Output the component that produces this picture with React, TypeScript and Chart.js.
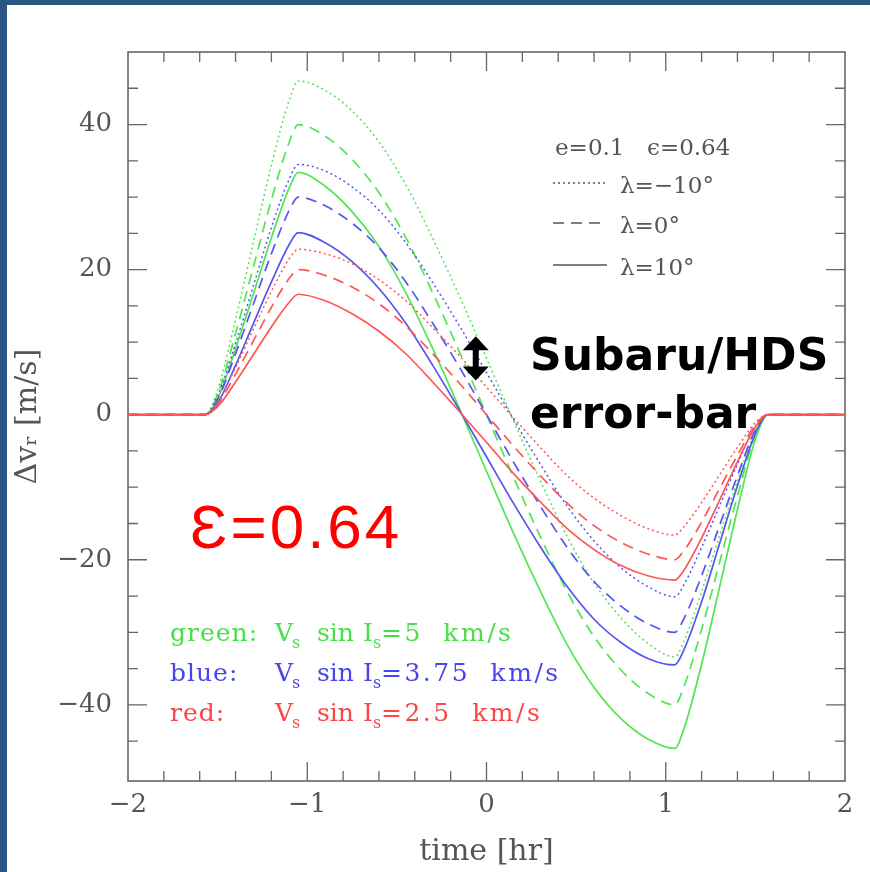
import React, { useEffect, useRef } from "react";
import { Chart, registerables } from "chart.js";

Chart.register(...registerables);

// ---------- data ----------
const times = [-2, -1.57, -1.5, -1.4, -1.3, -1.2, -1.1, -1.05, -0.9, -0.75, -0.6, -0.45, -0.3, -0.15, 0, 0.15, 0.3, 0.45, 0.6, 0.75, 0.9, 1.05, 1.1, 1.2, 1.3, 1.4, 1.5, 1.57, 2];

const greenDotted = [0, 0, 3.4, 13.1, 23.8, 34.4, 43.4, 46.0, 44.7, 41.9, 37.6, 31.7, 24.3, 16.3, 7.8, -0.8, -9.1, -16.8, -23.2, -28.0, -31.5, -33.4, -31.3, -24.4, -16.7, -9.1, -2.2, 0, 0];
const greenDashed = [0, 0, 2.8, 11.2, 20.4, 29.6, 37.6, 40.0, 38.4, 35.2, 30.6, 24.4, 16.8, 8.6, 0, -8.6, -16.8, -24.4, -30.6, -35.2, -38.4, -40.0, -37.6, -29.6, -20.4, -11.2, -2.8, 0, 0];
const greenSolid = [0, 0, 2.2, 9.1, 16.7, 24.4, 31.3, 33.4, 31.5, 28.0, 23.2, 16.8, 9.1, 0.8, -7.8, -16.3, -24.3, -31.7, -37.6, -41.9, -44.7, -46.0, -43.4, -34.4, -23.8, -13.1, -3.4, 0, 0];

const blueDotted = [0, 0, 2.6, 9.8, 17.8, 25.8, 32.5, 34.5, 33.6, 31.4, 28.2, 23.7, 18.2, 12.2, 5.8, -0.6, -6.8, -12.6, -17.4, -21.1, -23.7, -25.1, -23.5, -18.3, -12.6, -6.8, -1.6, 0, 0];
const blueDashed = [0, 0, 2.1, 8.4, 15.3, 22.2, 28.2, 30.0, 28.8, 26.4, 23.0, 18.3, 12.6, 6.5, 0, -6.5, -12.6, -18.3, -23.0, -26.4, -28.8, -30.0, -28.2, -22.2, -15.3, -8.4, -2.1, 0, 0];
const blueSolid = [0, 0, 1.6, 6.8, 12.6, 18.3, 23.5, 25.1, 23.7, 21.1, 17.4, 12.6, 6.8, 0.6, -5.8, -12.2, -18.2, -23.7, -28.2, -31.4, -33.6, -34.5, -32.5, -25.8, -17.8, -9.8, -2.6, 0, 0];

const redDotted = [0, 0, 1.7, 6.5, 11.8, 17.0, 21.5, 22.8, 22.2, 20.8, 18.6, 15.7, 12.0, 8.1, 3.8, -0.4, -4.5, -8.4, -11.5, -13.9, -15.7, -16.6, -15.5, -12.1, -8.3, -4.5, -1.1, 0, 0];
const redDashed = [0, 0, 1.4, 5.6, 10.2, 14.8, 18.8, 20.0, 19.2, 17.6, 15.3, 12.2, 8.4, 4.3, 0, -4.3, -8.4, -12.2, -15.3, -17.6, -19.2, -20.0, -18.8, -14.8, -10.2, -5.6, -1.4, 0, 0];
const redSolid = [0, 0, 1.1, 4.5, 8.3, 12.1, 15.5, 16.6, 15.7, 13.9, 11.5, 8.4, 4.5, 0.4, -3.8, -8.1, -12.0, -15.7, -18.6, -20.8, -22.2, -22.8, -21.5, -17.0, -11.8, -6.5, -1.7, 0, 0];

const xTickValues = [-2, -1, 0, 1, 2];
const yTickValues = [-40, -20, 0, 20, 40];
const xTitle = "time [hr]";
const yTitle = "\u0394v\u1d63 [m/s]";

const legendLabels = ["green:", "blue:", "red:"];
const legendValues = ["=5 km/s", "=3.75 km/s", "=2.5 km/s"];
const lambdaLabels = ["\u03bb=\u221210\u00b0", "\u03bb=0\u00b0", "\u03bb=10\u00b0"];
const paramText = ["e=0.1", "\u03f5=0.64"];
const epsilonText = "\u0190=0.64";
const noteLines = ["Subaru/HDS", "error-bar"];

const errorBarTime = -0.06;
const errorBarTop = 10.8;
const errorBarBottom = 4.7;

// ---------- styles ----------
const GREEN = "rgb(80,230,80)";
const BLUE = "rgb(85,85,240)";
const RED = "rgb(255,85,85)";
const GREEN_T = "rgb(70,225,70)";
const BLUE_T = "rgb(70,70,235)";
const RED_T = "rgb(250,70,70)";
const AXIS = "#666";
const TEXT = "#555";
const SERIF = '"DejaVu Serif", serif';
const DOT = [2, 3];
const DASH = [11, 7];

const fmt = (v: number) => (v < 0 ? "\u2212" + Math.abs(v) : String(v));

const seriesList = [
  { name: "red \u03bb=-10", values: redDotted, color: RED, dash: DOT },
  { name: "red \u03bb=0", values: redDashed, color: RED, dash: DASH },
  { name: "red \u03bb=10", values: redSolid, color: RED, dash: [] as number[] },
  { name: "blue \u03bb=-10", values: blueDotted, color: BLUE, dash: DOT },
  { name: "blue \u03bb=0", values: blueDashed, color: BLUE, dash: DASH },
  { name: "blue \u03bb=10", values: blueSolid, color: BLUE, dash: [] as number[] },
  { name: "green \u03bb=-10", values: greenDotted, color: GREEN, dash: DOT },
  { name: "green \u03bb=0", values: greenDashed, color: GREEN, dash: DASH },
  { name: "green \u03bb=10", values: greenSolid, color: GREEN, dash: [] as number[] },
];

const boxPlugin = {
  id: "boxTicks",
  beforeDatasetsDraw(chart: any) {
    const { ctx, chartArea: a, scales } = chart;
    const x = scales.x;
    const y = scales.y;
    ctx.save();
    ctx.strokeStyle = AXIS;
    ctx.lineWidth = 1.6;
    ctx.strokeRect(a.left, a.top, a.right - a.left, a.bottom - a.top);
    ctx.lineWidth = 1.3;
    ctx.beginPath();
    for (let i = 1; i < 20; i++) {
      const v = -2 + i * 0.2;
      const px = x.getPixelForValue(v);
      const len = i % 5 === 0 ? 19 : 10;
      ctx.moveTo(px, a.bottom);
      ctx.lineTo(px, a.bottom - len);
      ctx.moveTo(px, a.top);
      ctx.lineTo(px, a.top + len);
    }
    for (let v = -45; v <= 45; v += 5) {
      const py = y.getPixelForValue(v);
      const len = v % 20 === 0 ? 19 : 10;
      ctx.moveTo(a.left, py);
      ctx.lineTo(a.left + len, py);
      ctx.moveTo(a.right, py);
      ctx.lineTo(a.right - len, py);
    }
    ctx.stroke();
    ctx.restore();
  },
};

const notesPlugin = {
  id: "notes",
  afterDraw(chart: any) {
    const { ctx, scales } = chart;
    const x = scales.x;
    const y = scales.y;
    const c = ctx as any;
    ctx.save();
    ctx.textAlign = "left";
    ctx.textBaseline = "alphabetic";

    // top-right legend
    ctx.fillStyle = TEXT;
    ctx.font = `23px ${SERIF}`;
    ctx.fillText(paramText[0], 555, 155);
    ctx.fillText(paramText[1], 647, 155);
    const rowY = [183, 223, 265];
    const rowDash = [DOT, DASH, []];
    ctx.strokeStyle = TEXT;
    ctx.lineWidth = 1.4;
    for (let i = 0; i < 3; i++) {
      ctx.setLineDash(rowDash[i]);
      ctx.beginPath();
      ctx.moveTo(553, rowY[i]);
      ctx.lineTo(607, rowY[i]);
      ctx.stroke();
      ctx.fillText(lambdaLabels[i], 620, rowY[i] + 10);
    }
    ctx.setLineDash([]);

    // bottom-left legend
    const cols = [GREEN_T, BLUE_T, RED_T];
    const baseY = [641, 681, 721];
    const big = `25px ${SERIF}`;
    const small = `16px ${SERIF}`;
    for (let i = 0; i < 3; i++) {
      const by = baseY[i];
      ctx.fillStyle = cols[i];
      ctx.font = big;
      c.letterSpacing = "1px";
      ctx.fillText(legendLabels[i], 170, by);
      c.letterSpacing = "0px";
      ctx.fillText("V", 275, by);
      let w = ctx.measureText("V").width;
      ctx.font = small;
      ctx.fillText("s", 275 + w - 1, by + 7);
      ctx.font = big;
      ctx.fillText("sin", 317, by);
      ctx.fillText("I", 363, by);
      w = ctx.measureText("I").width;
      ctx.font = small;
      ctx.fillText("s", 363 + w, by + 7);
      ctx.font = big;
      c.letterSpacing = "2.5px";
      c.wordSpacing = "10px";
      ctx.fillText(legendValues[i], 381, by);
      c.letterSpacing = "0px";
      c.wordSpacing = "0px";
    }

    // big epsilon label
    c.letterSpacing = "3px";
    ctx.fillStyle = "#ff0000";
    ctx.font = `62px "Liberation Sans", Arial, sans-serif`;
    ctx.fillText(epsilonText, 190, 548);

    // Subaru note
    c.letterSpacing = "0px";
    ctx.fillStyle = "#000";
    ctx.font = `bold 44px "DejaVu Sans", sans-serif`;
    ctx.fillText(noteLines[0], 530, 370);
    ctx.fillText(noteLines[1], 530, 428);

    // error-bar arrow
    const ax = x.getPixelForValue(errorBarTime);
    const yt = y.getPixelForValue(errorBarTop);
    const yb = y.getPixelForValue(errorBarBottom);
    const head = 14;
    const hw = 13;
    ctx.beginPath();
    ctx.moveTo(ax, yt);
    ctx.lineTo(ax + hw, yt + head);
    ctx.lineTo(ax - hw, yt + head);
    ctx.closePath();
    ctx.fill();
    ctx.beginPath();
    ctx.moveTo(ax, yb);
    ctx.lineTo(ax + hw, yb - head);
    ctx.lineTo(ax - hw, yb - head);
    ctx.closePath();
    ctx.fill();
    ctx.fillRect(ax - 3, yt + head - 1, 6, yb - yt - 2 * head + 2);
    ctx.restore();
  },
};

export default function App() {
  const ref = useRef<HTMLCanvasElement | null>(null);

  useEffect(() => {
    if (!ref.current) return;
    const datasets = seriesList.map((s) => ({
      label: s.name,
      data: times.map((t, i) => ({ x: t, y: s.values[i] })),
      borderColor: s.color,
      backgroundColor: s.color,
      borderDash: s.dash,
      borderWidth: s.dash === DOT ? 1.5 : 1.7,
      pointRadius: 0,
      fill: false,
      cubicInterpolationMode: "monotone" as const,
    }));
    const chart = new Chart(ref.current, {
      type: "line",
      data: { datasets },
      options: {
        animation: false,
        responsive: true,
        maintainAspectRatio: false,
        layout: { padding: { top: 52, right: 25, left: 0, bottom: 0 } },
        plugins: { legend: { display: false }, tooltip: { enabled: false } },
        scales: {
          x: {
            type: "linear",
            min: -2,
            max: 2,
            grid: { display: false, drawTicks: false },
            border: { display: false },
            afterBuildTicks: (s: any) => {
              s.ticks = xTickValues.map((v) => ({ value: v }));
            },
            afterFit: (s: any) => {
              s.height = 91;
            },
            ticks: {
              padding: 9,
              maxRotation: 0,
              autoSkip: false,
              color: TEXT,
              font: { family: SERIF, size: 26 },
              callback: (v: any) => fmt(Number(v)),
            },
            title: {
              display: true,
              text: xTitle,
              color: TEXT,
              font: { family: SERIF, size: 30 },
              padding: { top: 0, bottom: 2 },
            },
          },
          y: {
            type: "linear",
            min: -50.5,
            max: 50,
            grid: { display: false, drawTicks: false },
            border: { display: false },
            afterBuildTicks: (s: any) => {
              s.ticks = yTickValues.map((v) => ({ value: v }));
            },
            afterFit: (s: any) => {
              s.width = 128;
            },
            ticks: {
              padding: 16,
              autoSkip: false,
              color: TEXT,
              font: { family: SERIF, size: 26 },
              callback: (v: any) => fmt(Number(v)),
            },
            title: {
              display: true,
              text: yTitle,
              color: TEXT,
              font: { family: SERIF, size: 30 },
              padding: { top: 10, bottom: 0 },
            },
          },
        },
      },
      plugins: [boxPlugin, notesPlugin],
    } as any);
    return () => chart.destroy();
  }, []);

  return (
    <div style={{ position: "fixed", left: 0, top: 0, width: 870, height: 872, background: "#2b5684" }}>
      <div style={{ position: "absolute", left: 7, top: 5, right: 0, bottom: 0, background: "#fff" }} />
      <div style={{ position: "absolute", left: 0, top: 0, width: 870, height: 872 }}>
        <canvas ref={ref} />
      </div>
    </div>
  );
}
